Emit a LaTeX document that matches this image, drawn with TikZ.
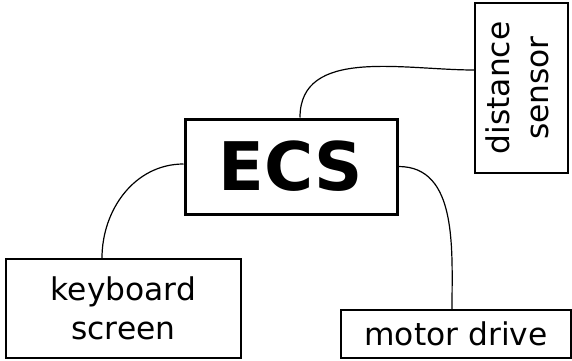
\documentclass[tikz,border=0pt]{standalone}
\usepackage{fontspec}
\setmainfont{DejaVu Sans}
\begin{document}
\begin{tikzpicture}[x=1pt,y=1pt,
  unit/.style={draw, line width=2pt, rectangle, inner sep=0pt, align=center,
    font=\fontsize{31.3}{39}\selectfont},
  hub/.style={unit, line width=3pt, font=\fontsize{67}{80}\selectfont\bfseries},
  link/.style={line width=1.2pt}]
  \useasboundingbox (0,0) rectangle (572,360);

  % central controller and its peripherals
  \node[hub, minimum width=212, minimum height=95] (ecs) at (291,193.5) {ECS};
  \node[unit, minimum width=235, minimum height=99] (kbd) at (123.5,51.5) {keyboard\\screen};
  \node[unit, minimum width=230, minimum height=48] (motor) at (456,26) {motor drive};
  \node[unit, minimum width=93, minimum height=170] (sensor) at (521.5,272)
    {\rotatebox{90}{\begin{tabular}{@{}c@{}}distance\\sensor\end{tabular}}};

  % wiring
  \draw[link] ([xshift=9pt]ecs.north) to[out=90, in=180] ([yshift=18pt]sensor.west);
  \draw[link] ([yshift=2.5pt]ecs.west) to[out=180, in=90] ([xshift=-21.5pt]kbd.north);
  \draw[link] (ecs.east) to[out=0, in=90] ([xshift=-4pt]motor.north);
\end{tikzpicture}
\end{document}
